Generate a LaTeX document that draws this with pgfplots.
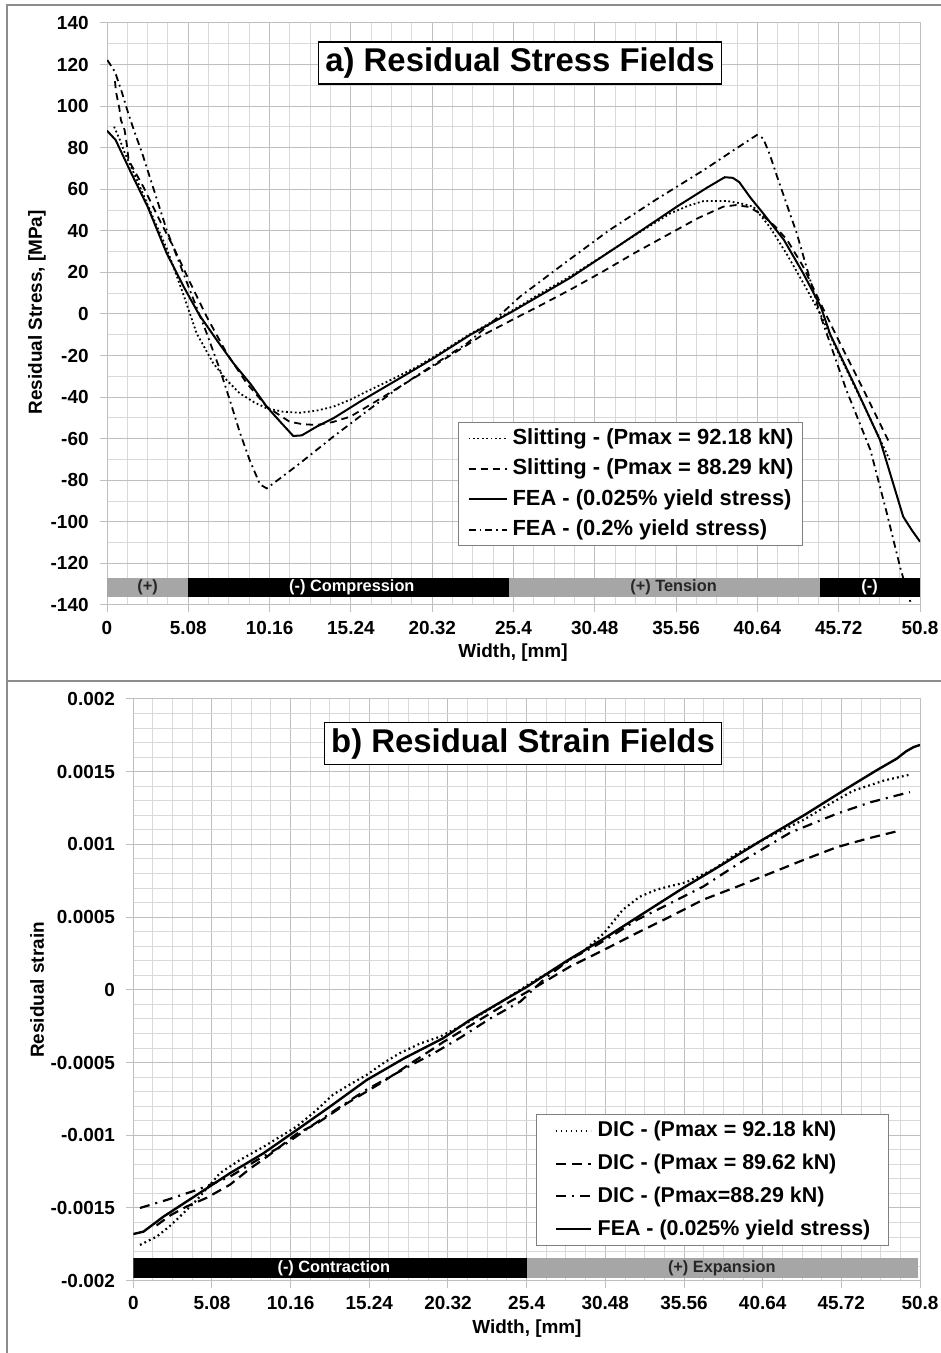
\documentclass[border=0pt]{standalone}
\usepackage{fontspec}
\setmainfont{Liberation Sans}
\usepackage{pgfplots}
\pgfplotsset{compat=1.18}

\definecolor{gridmaj}{HTML}{BFBFBF}
\definecolor{gridmin}{HTML}{D9D9D9}
\definecolor{band}{HTML}{A6A6A6}
\definecolor{frame}{HTML}{8C8C8C}
\definecolor{legframe}{HTML}{7F7F7F}

\pgfplotsset{
  excel/.style={
    scale only axis,
    axis line style={gridmaj, line width=0.5bp},
    grid=both,
    major grid style={gridmaj, line width=0.5bp},
    minor grid style={gridmin, line width=0.5bp},
    tick align=outside, tick pos=left,
    major tick length=3.5bp, minor tick length=0pt,
    tick style={gridmaj, line width=0.5bp},
    tick label style={font=\bfseries\fontsize{9.5}{10}\selectfont},
    xticklabel style={yshift=-1bp},
    yticklabel style={xshift=-2.2bp},
    /pgf/number format/assume math mode=true,
    label style={font=\bfseries\fontsize{9.5}{11}\selectfont},
    legend cell align=left,
    xmin=0, xmax=50.8,
    xtick={0,5.08,10.16,15.24,20.32,25.4,30.48,35.56,40.64,45.72,50.8},
    xticklabels={0,5.08,10.16,15.24,20.32,25.4,30.48,35.56,40.64,45.72,50.8},
    minor x tick num=3,
    xlabel={Width, [mm]},
  },
  dotline/.style={black, line width=0.9bp, dash pattern=on 0.9bp off 1.3bp},
  dashline/.style={black, line width=0.9bp, dash pattern=on 3.5bp off 2.5bp},
  dashdotline/.style={black, line width=0.9bp, dash pattern=on 3.5bp off 2bp on 0.9bp off 2bp},
  solidline/.style={black, line width=1bp},
}

\begin{document}
\begin{tikzpicture}
\useasboundingbox (0,0) rectangle (470.5bp,676.5bp);

% panel frames
\draw[frame, line width=0.75bp] (3.5bp,0bp) -- (3.5bp,674bp) -- (470.5bp,674bp);
\draw[frame, line width=0.75bp] (3.5bp,336bp) -- (470.5bp,336bp);

%% a) stress
\begin{axis}[excel,
  at={(53.5bp,374bp)}, anchor=south west,
  width=406.5bp, height=291bp,
  ymin=-140, ymax=140,
  ytick={-140,-120,...,140}, minor y tick num=1,
  ylabel={Residual Stress, [MPa]},
  xlabel style={at={(axis description cs:0.4994,-0.0825)}, anchor=center},
  ylabel style={at={(axis description cs:-0.0861,0.503)}, anchor=center},
  legend image code/.code={\draw[#1] (0bp,0bp) -- (19bp,0bp);},
  legend style={at={(0.4317,0.3144)}, anchor=north west, draw=legframe, line width=0.6bp,
    font=\bfseries\fontsize{11}{13}\selectfont, inner xsep=4.5bp, inner ysep=2.4bp,
    row sep=4.25bp, nodes={inner sep=0pt, text height=8.5bp, text depth=2.5bp},
    /tikz/every odd column/.append style={column sep=2.5bp}},
]
\addplot[dotline] coordinates {
(0.44,90.1) (0.81,83.7) (1.12,77.3) (2.06,61.2) (2.9,46) (3.73,31.6) (4.7,11)
(5.6,-9.3) (6.64,-23.7) (7.5,-32) (8.3,-38.2) (9.2,-42.5) (9.98,-45.4) (11,-47)
(12.06,-47.5) (13.1,-46.5) (14.14,-44.6) (15.2,-41.2) (16.2,-37.4) (17.8,-31.5)
(19.35,-25.5) (21,-17.8) (22.5,-10.5) (24,-4) (25.4,2) (27,9.5) (28.9,17.9)
(31,28) (33,38) (35.2,48.4) (36.3,52) (37.3,54.4) (38.7,54.4) (39.6,53.2)
(40.4,51.6) (41.4,42) (42.5,28.5) (43.5,15) (44.55,0.3) (45.6,-17.3) (47.3,-44)
(48.9,-70.2)};
\addlegendentry{Slitting - (Pmax = 92.18 kN)}
\addplot[dashline] coordinates {
(0.5,112) (0.56,107) (0.77,99) (0.87,93.3) (1.1,88.5) (1.23,82) (1.35,74)
(2.27,61.2) (3.2,46.5) (4.14,32.4) (5.2,15) (6.23,-1.3) (7.48,-18.9) (8.7,-33)
(9.98,-44.6) (11.4,-51.8) (12.2,-53) (13.1,-53.4) (14.1,-52) (15.2,-49.4)
(16.7,-42.5) (18.3,-35) (20.4,-25) (22.5,-14.9) (23.3,-10.9) (25.4,-2.5)
(27,3.8) (28.9,11.5) (31,20.5) (33,29.5) (35.2,38.8) (36.9,46) (38.5,51.6)
(39.3,52.4) (40.1,51.5) (40.8,48.4) (41.7,42.5) (42.5,35.6) (43.5,22.8)
(44.5,6.5) (45.6,-10.9) (47.3,-37) (48.9,-62.2)};
\addlegendentry{Slitting - (Pmax = 88.29 kN)}
\addplot[solidline] coordinates {
(0,88.2) (0.54,83.7) (1.5,68) (2.54,51.6) (3.73,29.2) (4.8,13) (5.77,-0.5)
(6.9,-13) (7.9,-23.7) (9,-34) (9.98,-44.6) (10.9,-52.5) (11.64,-58.7)
(12.17,-58.4) (13.1,-54.2) (14.14,-50.2) (15.8,-42.2) (18.3,-30.9) (20.4,-21.3)
(22.7,-10) (25.4,1.5) (28.9,17.2) (32,33) (35.6,51.6) (37.5,60.8) (38.6,65.8)
(39.1,65.5) (39.5,63.5) (40.2,56) (41,48.4) (42.3,35.6) (43.5,19.6) (44.6,3.5)
(45.2,-10) (46.7,-34) (48.3,-60.6) (49.75,-97.5) (50.28,-103.9) (50.8,-109.5)};
\addlegendentry{FEA - (0.025\% yield stress)}
\addplot[dashdotline] coordinates {
(0.02,122.2) (0.5,116.5) (0.92,106.9) (1.33,96.5) (1.75,86.9) (2.2,77.3)
(3,58) (3.73,40.4) (5,15) (6.23,-9.3) (7.06,-26.9) (7.7,-42) (8.3,-57)
(8.9,-70) (9.56,-82) (9.98,-83.9) (11,-78) (12.06,-71.8) (14.14,-59)
(16.2,-47) (18.3,-35) (20.4,-24.5) (22.5,-14.1) (24.2,-3) (25.8,8.3)
(28.6,24.5) (31.4,40.4) (34.3,55) (37.3,69.3) (39,78) (40.6,86.1) (41,84.5)
(41.4,77) (41.8,67.7) (43.1,38.8) (44.6,-1.3) (46.2,-36.6) (47.7,-65.4)
(48.7,-95) (49.6,-123.1) (50.3,-141)};
\addlegendentry{FEA - (0.2\% yield stress)}

% sign bands
\fill[band] (axis cs:0,-127) rectangle (axis cs:5.08,-136);
\fill[black] (axis cs:5.08,-127) rectangle (axis cs:25.1,-136);
\fill[band] (axis cs:25.1,-127) rectangle (axis cs:44.56,-136);
\fill[black] (axis cs:44.56,-127) rectangle (axis cs:50.8,-136);
\begin{scope}[every node/.style={font=\bfseries\fontsize{8.2}{9}\selectfont, inner sep=0pt}]
\node[black!85] at (axis cs:2.54,-131.5) {(+)};
\node[white] at (axis cs:15.3,-131.5) {(-) Compression};
\node[black!85] at (axis cs:35.4,-131.5) {(+) Tension};
\node[white] at (axis cs:47.65,-131.5) {(-)};
\end{scope}

\node[draw=black, fill=white, line width=0.75bp, minimum width=201.5bp, minimum height=21bp,
  inner sep=0pt, font=\bfseries\fontsize{16.5}{18}\selectfont]
  at (rel axis cs:0.508,0.931) {a) Residual Stress Fields};
\end{axis}

%% b) strain
\begin{axis}[excel,
  at={(66.65bp,36.15bp)}, anchor=south west,
  width=393.35bp, height=290.85bp,
  ymin=-0.002, ymax=0.002,
  ytick={-0.002,-0.0015,-0.001,-0.0005,0,0.0005,0.001,0.0015,0.002},
  yticklabels={-0.002,-0.0015,-0.001,-0.0005,0,0.0005,0.001,0.0015,0.002},
  scaled y ticks=false,
  minor y tick num=4,
  ylabel={Residual strain},
  xlabel style={at={(axis description cs:0.5004,-0.083)}, anchor=center},
  ylabel style={at={(axis description cs:-0.1224,0.4998)}, anchor=center},
  legend image code/.code={\draw[#1] (0bp,0bp) -- (17.5bp,0bp);},
  legend style={at={(0.5115,0.2866)}, anchor=north west, draw=legframe, line width=0.6bp,
    font=\bfseries\fontsize{10.75}{13}\selectfont, inner xsep=9bp, inner ysep=2.7bp,
    row sep=5.35bp, nodes={inner sep=0pt, text height=8.5bp, text depth=2.5bp},
    /tikz/every odd column/.append style={column sep=3bp}},
]
\addplot[black, line width=1.1bp, dash pattern=on 0.9bp off 1.6bp] coordinates {
(0.43,-0.001754) (1.51,-0.001697) (2.3,-0.00163) (3,-0.00156) (4.1,-0.001445)
(5.6,-0.00126) (6.88,-0.00117) (8.4,-0.00108) (10.55,-0.00094) (11.8,-0.00083)
(12.9,-0.00072) (14,-0.00065) (15.07,-0.000585) (16.2,-0.0005) (17.2,-0.000436)
(18.5,-0.00037) (19.8,-0.000322) (21.5,-0.00023) (23.5,-0.0001) (25.8,0.000056)
(27.5,0.00016) (29,0.00026) (30.4,0.00039) (31.6,0.00055) (32.7,0.00064)
(33.8,0.00069) (35.7,0.00074) (37.5,0.00083) (39,0.00094) (41,0.00105)
(43.3,0.00117) (45,0.00128) (46.5,0.00137) (48.5,0.00144) (50.15,0.00148)};
\addlegendentry{DIC - (Pmax = 92.18 kN)}
\addplot[black, line width=1.1bp, dash pattern=on 5bp off 3bp] coordinates {
(1.5,-0.00162) (2.4,-0.00155) (3.44,-0.00149) (4.74,-0.00143) (6.24,-0.00134)
(7.53,-0.00123) (8.6,-0.00115) (10.55,-0.00099) (11.84,-0.00092) (13.8,-0.00078)
(16,-0.00064) (18,-0.0005) (20,-0.00036) (22,-0.00023) (24,-0.0001) (26,0.00002)
(28.2,0.00016) (30.3,0.00027) (32.5,0.00039) (34.6,0.0005) (36.8,0.00062)
(39,0.00071) (41.1,0.0008) (43.2,0.00089) (45.4,0.00098) (47.4,0.00104)
(49.3,0.00109)};
\addlegendentry{DIC - (Pmax = 89.62 kN)}
\addplot[black, line width=1.1bp, dash pattern=on 5bp off 3bp on 1bp off 3bp] coordinates {
(0.43,-0.0015) (2.15,-0.001445) (4.1,-0.001376) (5.2,-0.00133) (6.24,-0.001285)
(8,-0.00117) (9.9,-0.001055) (11.3,-0.00095) (12.7,-0.00085) (15,-0.00069)
(17.9,-0.00052) (19.5,-0.00043) (21.1,-0.00033) (23,-0.0002) (25,-0.00008)
(26.6,0.00008) (28.2,0.00021) (29.8,0.0003) (31.2,0.00039) (32.5,0.00048)
(34.2,0.00057) (36.8,0.00071) (39.4,0.00089) (42.4,0.00108) (45.4,0.00121)
(47.6,0.00129) (50.15,0.00136)};
\addlegendentry{DIC - (Pmax=88.29 kN)}
\addplot[black, line width=1.2bp] coordinates {
(0,-0.001679) (0.65,-0.001663) (1.94,-0.00156) (4.1,-0.00141) (6.24,-0.001261)
(8.4,-0.001124) (10.55,-0.000964) (12.7,-0.000803) (15.07,-0.00062)
(17.5,-0.00047) (20,-0.000333) (21.7,-0.00021) (25.4,0.00002) (28,0.0002)
(30.5,0.00036) (33,0.00053) (35.5,0.0007) (38,0.00086) (40.6,0.00103)
(43.3,0.0012) (46,0.00138) (48,0.00151) (49.3,0.00159) (49.9,0.00164)
(50.4,0.00167) (50.8,0.001684)};
\addlegendentry{FEA - (0.025\% yield stress)}

\fill[black] (axis cs:0,-0.001842) rectangle (axis cs:25.4,-0.001983);
\fill[band] (axis cs:25.4,-0.001842) rectangle (axis cs:50.65,-0.001983);
\begin{scope}[every node/.style={font=\bfseries\fontsize{8.2}{9}\selectfont, inner sep=0pt}]
\node[white] at (axis cs:12.95,-0.0019125) {(-) Contraction};
\node[black!85] at (axis cs:38.0,-0.0019125) {(+) Expansion};
\end{scope}

\node[draw=black, fill=white, line width=0.75bp, minimum width=198.7bp, minimum height=20.8bp,
  inner sep=0pt, font=\bfseries\fontsize{16.5}{18}\selectfont]
  at (rel axis cs:0.4954,0.9235) {b) Residual Strain Fields};
\end{axis}
\end{tikzpicture}
\end{document}
